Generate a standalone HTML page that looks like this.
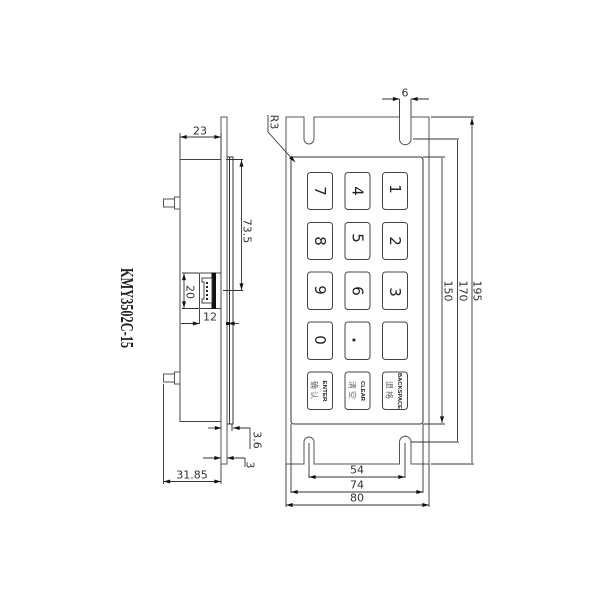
<!DOCTYPE html>
<html><head><meta charset="utf-8"><style>
html,body{margin:0;padding:0;background:#fff;width:600px;height:600px;overflow:hidden}
svg{display:block}
text{font-family:"DejaVu Sans","Liberation Sans",sans-serif;fill:#333;text-anchor:middle;dominant-baseline:central}
.t{font-size:11px;font-weight:normal;font-stretch:expanded}
.k{font-size:15px;fill:#222}
.s{font-size:5.5px;font-weight:bold;font-family:"Liberation Sans",sans-serif;fill:#222}
.c{font-size:8px;font-family:"Noto Sans CJK SC",sans-serif;fill:#666;letter-spacing:2px}
</style></head><body>
<svg width="600" height="600" viewBox="0 0 600 600" xmlns="http://www.w3.org/2000/svg">
<defs>
<marker id="a" viewBox="0 0 10 6" refX="10" refY="3" markerWidth="8" markerHeight="4" markerUnits="userSpaceOnUse" orient="auto-start-reverse"><path d="M0 0L10 3L0 6Z" fill="#111"/></marker>
</defs>
<g fill="none" stroke="#555" stroke-width="1">
<!-- Front plate -->
<path d="M286 464V117H304V139A5 5 0 0 0 314 139V117H399.5V139A5.5 5.5 0 0 0 411 139V117H429V464H411V442A5.5 5.5 0 0 0 399.5 442V464H314V442A5 5 0 0 0 304 442V464Z"/>
<path d="M294 157H420Q423 157 423 160V421Q423 424 420 424H294Q291 424 291 421V160Q291 157 294 157Z" stroke="#333"/>
<g stroke="#444">
<rect x="307.500" y="172.500" width="25" height="37" rx="3"/><rect x="345" y="172.500" width="25" height="37" rx="3"/><rect x="382.500" y="172.500" width="25" height="37" rx="3"/>
<rect x="307.500" y="222.500" width="25" height="37" rx="3"/><rect x="345" y="222.500" width="25" height="37" rx="3"/><rect x="382.500" y="222.500" width="25" height="37" rx="3"/>
<rect x="307.500" y="272" width="25" height="37.500" rx="3"/><rect x="345" y="272" width="25" height="37.500" rx="3"/><rect x="382.500" y="272" width="25" height="37.500" rx="3"/>
<rect x="307.500" y="322" width="25" height="37.500" rx="3"/><rect x="345" y="322" width="25" height="37.500" rx="3"/><rect x="382.500" y="322" width="25" height="37.500" rx="3"/>
<rect x="307.500" y="372" width="25" height="37.500" rx="3"/><rect x="345" y="372" width="25" height="37.500" rx="3"/><rect x="382.500" y="372" width="25" height="37.500" rx="3"/>
</g>
<!-- Front dims -->
<g stroke="#333" stroke-width=".9">
<path d="M431 117H474M413 139H459M423 157H445M423 424H445M411 442H459M431 464H474"/>
<path d="M472 118V463M457.500 140V441M442 158V423" marker-start="url(#a)" marker-end="url(#a)"/>
<path d="M399.500 99V117M411 99V117"/>
<path d="M382 99H399.500" marker-end="url(#a)"/><path d="M429 99H411" marker-end="url(#a)"/>
<path d="M309 443V478M405 443V478"/>
<path d="M309 477H405" marker-start="url(#a)" marker-end="url(#a)"/>
<path d="M291 424V493M423 424V493"/>
<path d="M291 492H423" marker-start="url(#a)" marker-end="url(#a)"/>
<path d="M286 464V507M429 464V507"/>
<path d="M286 505H429" marker-start="url(#a)" marker-end="url(#a)"/>
<path d="M268 115V132L295 162" marker-end="url(#a)"/>
</g>
<!-- Side view -->
<rect x="221" y="117" width="6" height="347" stroke="#555"/>
<rect x="180" y="159.500" width="41" height="262" stroke="#444"/>
<path d="M227 157H233V424H227M229.500 157V424" stroke="#333"/>
<path d="M226 159.500H243" stroke="#333"/>
<rect x="163.500" y="199" width="11" height="8"/><rect x="174.500" y="197" width="5.500" height="12"/>
<rect x="163.500" y="374" width="11" height="8"/><rect x="174.500" y="372" width="5.500" height="12"/>
<!-- Connector -->
<path d="M199.500 273H221M199.500 308.500H221M199.500 273V308.500" stroke="#444"/>
<rect x="212" y="273" width="3.500" height="35.500" fill="#111" stroke="#111"/>
<path d="M202 278H212V303H202V299H204V282H202Z" stroke="#444"/>
<path d="M207 282V300" stroke="#222" stroke-width="2" stroke-dasharray="2 2"/>
<!-- Side dims -->
<g stroke="#333" stroke-width=".9">
<path d="M180 133V159M221 133V159"/>
<path d="M180 137H221" marker-start="url(#a)" marker-end="url(#a)"/>
<path d="M241.500 160V290" marker-start="url(#a)" marker-end="url(#a)"/>
<path d="M223 290.500H243"/>
<path d="M182 273H199M182 308.500H199"/>
<path d="M184 273.500V308" marker-start="url(#a)" marker-end="url(#a)"/>
<path d="M199.500 309V324"/>
<path d="M181 323.500H199.500" marker-end="url(#a)"/><path d="M239 323.500H228" marker-end="url(#a)"/>
<path d="M208 428H221.500" marker-end="url(#a)"/><path d="M250 428H233" marker-end="url(#a)"/>
<path d="M250 428V449M232 424V431"/>
<path d="M203 458H221" marker-end="url(#a)"/><path d="M245 458H227" marker-end="url(#a)"/>
<path d="M245 458V467"/>
<path d="M163.500 384V484M221 464V484"/>
<path d="M163.500 481.500H221" marker-start="url(#a)" marker-end="url(#a)"/>
</g>
</g>
<rect x="226" y="322" width="4" height="3" fill="#111"/>
<!-- Key labels -->
<text class="k" transform="translate(320,191) rotate(90)">7</text>
<text class="k" transform="translate(357.500,191) rotate(90)">4</text>
<text class="k" transform="translate(395,189) rotate(90)">1</text>
<text class="k" transform="translate(320,241) rotate(90)">8</text>
<text class="k" transform="translate(357.500,238) rotate(90)">5</text>
<text class="k" transform="translate(395,241) rotate(90)">2</text>
<text class="k" transform="translate(320,290) rotate(90)">9</text>
<text class="k" transform="translate(357.500,291) rotate(90)">6</text>
<text class="k" transform="translate(395,292) rotate(90)">3</text>
<text class="k" transform="translate(320,340) rotate(90)">0</text>
<text class="k" style="font-weight:bold" transform="translate(357.500,340) rotate(90)">.</text>
<text class="s" transform="translate(324,391) rotate(90)" textLength="21" lengthAdjust="spacingAndGlyphs">ENTER</text>
<text class="s" transform="translate(362,391) rotate(90)" textLength="20" lengthAdjust="spacingAndGlyphs">CLEAR</text>
<text class="s" transform="translate(399,391) rotate(90)" textLength="36" lengthAdjust="spacingAndGlyphs">BACKSPACE</text>
<text class="c" transform="translate(314,391) rotate(90)">确认</text>
<text class="c" transform="translate(352,391) rotate(90)">清空</text>
<text class="c" transform="translate(389,391) rotate(90)">退格</text>
<!-- Dimension labels -->
<text class="t" x="405" y="93">6</text>
<text class="t" transform="translate(274,122) rotate(90)">R3</text>
<text class="t" transform="translate(477,291) rotate(90)">195</text>
<text class="t" transform="translate(463,291) rotate(90)">170</text>
<text class="t" transform="translate(448,291) rotate(90)">150</text>
<text class="t" x="357" y="470">54</text>
<text class="t" x="357" y="485">74</text>
<text class="t" x="357" y="498">80</text>
<text class="t" x="200" y="131">23</text>
<text class="t" transform="translate(247,231) rotate(90)">73.5</text>
<text class="t" transform="translate(190,292) rotate(90)">20</text>
<text class="t" x="210" y="317">12</text>
<text class="t" transform="translate(257,440) rotate(90)">3.6</text>
<text class="t" transform="translate(250,465) rotate(90)">3</text>
<text class="t" x="192" y="475">31.85</text>
<text transform="translate(127,308) rotate(90)" style="font-family:'Liberation Serif',serif;font-size:18px;font-weight:bold;fill:#222" textLength="80" lengthAdjust="spacingAndGlyphs">KMY3502C-15</text>
</svg>
</body></html>
